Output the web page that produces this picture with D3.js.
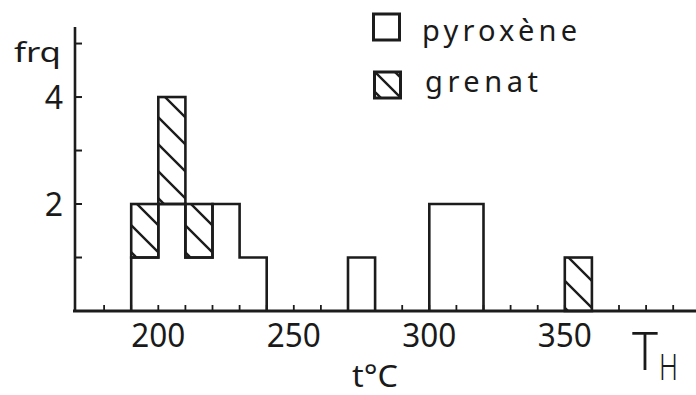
<!DOCTYPE html>
<html>
<head>
<meta charset="utf-8">
<script src="https://cdn.jsdelivr.net/npm/d3@7"></script>
<style>
  html, body { margin: 0; padding: 0; background: #fff; }
  svg { display: block; }
  text { font-family: "Noto Sans", "DejaVu Sans", sans-serif; fill: #1a1a1a; }
</style>
</head>
<body>
<svg id="chart" width="696" height="395"></svg>
<script>
// ---- data (bins of 10 °C, left edges) ----
const binStarts = [190, 200, 210, 220, 230, 270, 300, 310, 350];
const pyroxene  = [1,   2,   1,   2,   1,   1,   2,   2,   0];
const grenat    = [1,   2,   1,   0,   0,   0,   0,   0,   1];
const binWidth = 10;
const xTickValues = d3.range(180, 400, 10);
const xTickLabels = [200, 250, 300, 350];
const yTickValues = [1, 2, 3, 4, 5];
const yTickLabels = [2, 4];
const seriesNames = ["pyroxène", "grenat"];

const svg = d3.select("#chart");
const ink = "#1c1c1c";

const x = d3.scaleLinear().domain([170, 400]).range([77, 700.3]);
const y = d3.scaleLinear().domain([0, 5.3]).range([311, 27.5]);

// hatch patterns
const defs = svg.append("defs");
function hatch(id, size, tx, ty) {
  const p = defs.append("pattern")
    .attr("id", id)
    .attr("patternUnits", "userSpaceOnUse")
    .attr("width", size).attr("height", size)
    .attr("patternTransform", `translate(${tx},${ty})`);
  p.append("path")
    .attr("d", `M-3,-3L${size+3},${size+3}M-3,${size-3}L3,${size+3}M${size-3},-3L${size+3},3`)
    .attr("stroke", ink).attr("stroke-width", 2.4).attr("fill", "none");
}
hatch("hatch", 27, 0, 13);
hatch("hatchLegend", 20, 375, 72);

const bins = binStarts.map((s, i) => ({ s, p: pyroxene[i], g: grenat[i] }));

// pyroxene bars (white fill)
svg.append("g").selectAll("rect").data(bins.filter(d => d.p > 0)).join("rect")
  .attr("x", d => x(d.s)).attr("width", d => x(d.s + binWidth) - x(d.s))
  .attr("y", d => y(d.p)).attr("height", d => y(0) - y(d.p))
  .attr("fill", "#fff");

// outline of pyroxene histogram (step outline, no internal edges)
const groups = [];
bins.filter(d => d.p > 0).forEach(d => {
  const last = groups[groups.length - 1];
  if (last && last[last.length - 1].s + binWidth === d.s) last.push(d);
  else groups.push([d]);
});
groups.forEach(g => {
  const pts = [[g[0].s, 0]];
  g.forEach(d => { pts.push([d.s, d.p]); pts.push([d.s + binWidth, d.p]); });
  pts.push([g[g.length - 1].s + binWidth, 0]);
  svg.append("path")
    .attr("d", d3.line().x(p => x(p[0])).y(p => y(p[1]))(pts))
    .attr("fill", "none").attr("stroke", ink).attr("stroke-width", 2.6)
    .attr("stroke-linejoin", "miter");
});

// grenat bars, stacked on pyroxene
svg.append("g").selectAll("rect").data(bins.filter(d => d.g > 0)).join("rect")
  .attr("x", d => x(d.s)).attr("width", d => x(d.s + binWidth) - x(d.s))
  .attr("y", d => y(d.p + d.g)).attr("height", d => y(d.p) - y(d.p + d.g))
  .attr("fill", "url(#hatch)")
  .attr("stroke", ink).attr("stroke-width", 2.6);

// x axis
const xAxis = svg.append("g");
xAxis.append("line")
  .attr("x1", 73).attr("x2", 696).attr("y1", y(0)).attr("y2", y(0))
  .attr("stroke", ink).attr("stroke-width", 3);
xAxis.selectAll(".xt").data(xTickValues).join("line")
  .attr("x1", d => x(d)).attr("x2", d => x(d))
  .attr("y1", y(0)).attr("y2", y(0) - 6)
  .attr("stroke", ink).attr("stroke-width", 1.8);
xAxis.selectAll(".xl").data(xTickLabels).join("text")
  .attr("x", d => x(d)).attr("y", 347)
  .attr("text-anchor", "middle")
  .attr("font-size", 32)
  .attr("textLength", 54).attr("lengthAdjust", "spacingAndGlyphs")
  .text(d => d);

// y axis
const yAxis = svg.append("g");
yAxis.append("line")
  .attr("x1", 75).attr("x2", 75).attr("y1", y(0) + 1).attr("y2", 27)
  .attr("stroke", ink).attr("stroke-width", 2.6);
yAxis.selectAll(".yt").data(yTickValues).join("line")
  .attr("x1", 75).attr("x2", 82)
  .attr("y1", d => y(d)).attr("y2", d => y(d))
  .attr("stroke", ink).attr("stroke-width", 2);
yAxis.selectAll(".yl").data(yTickLabels).join("text")
  .attr("x", 63).attr("y", d => y(d) + 12)
  .attr("text-anchor", "end")
  .attr("font-size", 32)
  .text(d => d);

// axis titles
svg.append("text").attr("x", 14).attr("y", 62).attr("font-size", 28)
  .attr("textLength", 47).attr("lengthAdjust", "spacingAndGlyphs").text("frq");
svg.append("text").attr("x", 352).attr("y", 387).attr("font-size", 30)
  .attr("textLength", 46).attr("lengthAdjust", "spacingAndGlyphs").text("t°C");
svg.append("text").attr("x", 632).attr("y", 370).attr("font-size", 53)
  .attr("font-weight", 300)
  .attr("textLength", 26).attr("lengthAdjust", "spacingAndGlyphs").text("T");
svg.append("text").attr("x", 659).attr("y", 380).attr("font-size", 37)
  .attr("font-weight", 300)
  .attr("textLength", 19).attr("lengthAdjust", "spacingAndGlyphs").text("H");

// legend
const legend = svg.append("g");
legend.append("rect").attr("x", 373.5).attr("y", 14).attr("width", 26).attr("height", 26)
  .attr("fill", "#fff").attr("stroke", ink).attr("stroke-width", 3);
legend.append("rect").attr("x", 374.5).attr("y", 72).attr("width", 26).attr("height", 26)
  .attr("fill", "url(#hatchLegend)").attr("stroke", ink).attr("stroke-width", 3);
legend.append("text").attr("x", 422).attr("y", 41).attr("font-size", 29)
  .attr("textLength", 155).attr("lengthAdjust", "spacing").text(seriesNames[0]);
legend.append("text").attr("x", 425).attr("y", 92).attr("font-size", 29)
  .attr("textLength", 113).attr("lengthAdjust", "spacing").text(seriesNames[1]);
</script>
</body>
</html>
